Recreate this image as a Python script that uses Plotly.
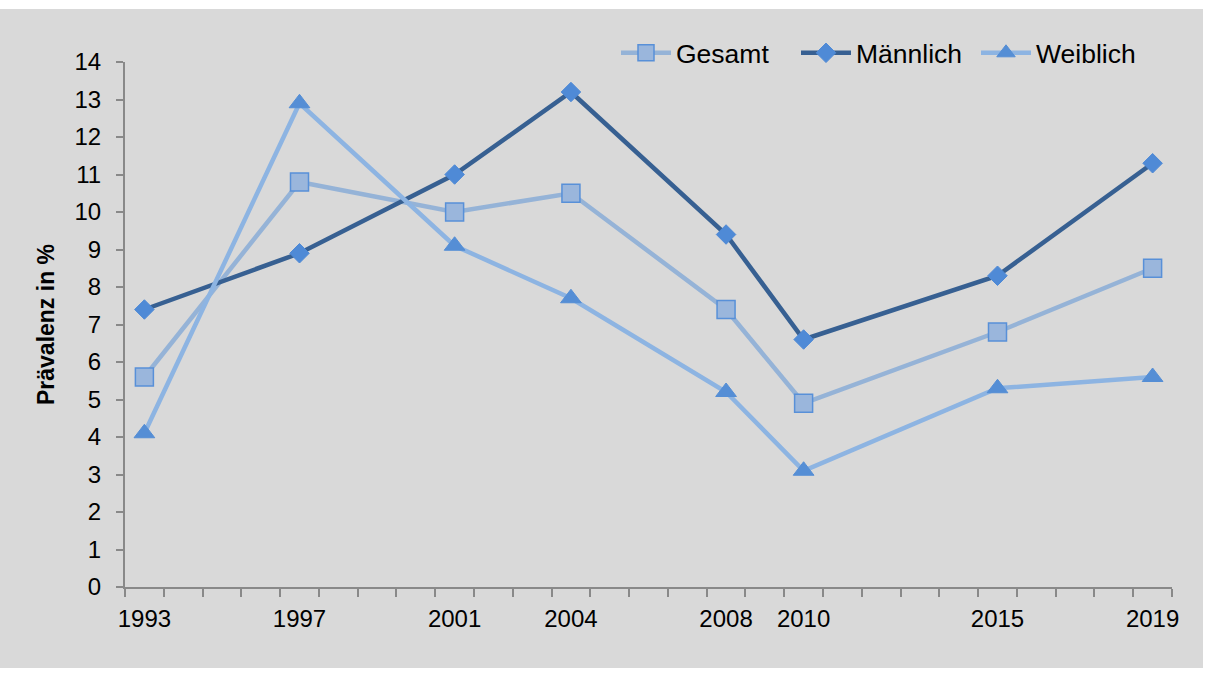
import plotly.graph_objects as go

# Survey years and prevalence (%) by group
years = [1993, 1997, 2001, 2004, 2008, 2010, 2015, 2019]
gesamt = [5.6, 10.8, 10.0, 10.5, 7.4, 4.9, 6.8, 8.5]
maennlich = [7.4, 8.9, 11.0, 13.2, 9.4, 6.6, 8.3, 11.3]
weiblich = [4.1, 12.9, 9.1, 7.7, 5.2, 3.1, 5.3, 5.6]

FONT = "Liberation Sans, Arial, sans-serif"
AXIS_COL = "#898989"

fig = go.Figure()

fig.add_trace(go.Scatter(
    x=years, y=gesamt, name="Gesamt", mode="lines+markers",
    line=dict(color="#95b3d7", width=4.5),
    marker=dict(symbol="square", size=18, color="#9ab6dc",
                line=dict(color="#5890d8", width=1.5)),
))
fig.add_trace(go.Scatter(
    x=years, y=maennlich, name="Männlich", mode="lines+markers",
    line=dict(color="#376092", width=4.5),
    marker=dict(symbol="diamond", size=15, color="#4f8ad6",
                line=dict(color="#4f8ad6", width=1)),
))
fig.add_trace(go.Scatter(
    x=years, y=weiblich, name="Weiblich", mode="lines+markers",
    line=dict(color="#8db4e2", width=4.5),
    marker=dict(symbol="triangle-up", size=18, color="#558ed5",
                line=dict(color="#558ed5", width=1)),
))

# grey chart area inside a thin white frame
fig.add_shape(type="rect", xref="paper", yref="paper",
              x0=-125/1047, x1=(1203-125)/1047,
              y0=-(668-587)/525, y1=(587-9)/525,
              fillcolor="#d9d9d9", line=dict(width=0), layer="below")

fig.update_layout(
    width=1208, height=675,
    margin=dict(l=125, r=36, t=62, b=88, autoexpand=False),
    paper_bgcolor="white",
    plot_bgcolor="rgba(0,0,0,0)",
    font=dict(family=FONT, size=24, color="black"),
    showlegend=True,
    legend=dict(orientation="h", x=(616 - 125) / 1047, xanchor="left",
                y=1.017, yanchor="middle",
                bgcolor="rgba(0,0,0,0)", font=dict(size=26.5), itemwidth=50,
                entrywidth=115, entrywidthmode="pixels",
                tracegroupgap=0),
    xaxis=dict(
        range=[1992.5, 2019.5], tickmode="array", tickvals=years,
        ticktext=[str(y) for y in years], ticks="", showgrid=False,
        zeroline=False, showline=True, linecolor=AXIS_COL, linewidth=2,
        ticklabelstandoff=9,
        minor=dict(tickmode="array", tickvals=[1992.5 + i for i in range(28)],
                   ticks="outside", ticklen=8, tickcolor=AXIS_COL, tickwidth=2,
                   showgrid=False),
    ),
    yaxis=dict(
        range=[0, 14], dtick=1, tick0=0, ticks="outside", ticklen=7,
        tickcolor=AXIS_COL, tickwidth=2, showgrid=False, zeroline=False,
        showline=True, linecolor=AXIS_COL, linewidth=2,
        ticklabelstandoff=10,
        title=dict(text="<b>Prävalenz in %</b>", font=dict(size=23), standoff=13),
    ),
)

fig.write_html("out.html")
